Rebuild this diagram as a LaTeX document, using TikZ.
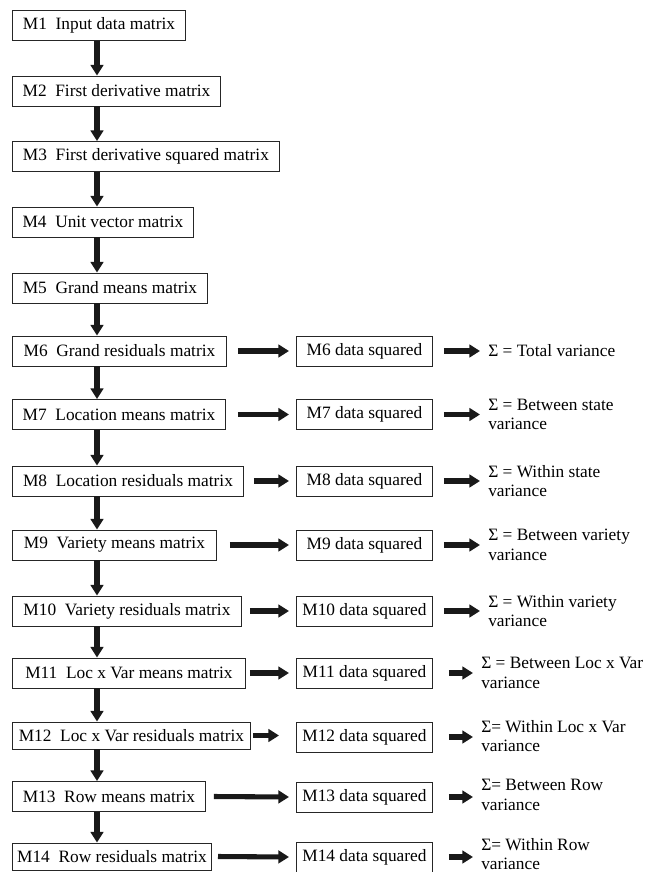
\documentclass[tikz,border=0pt]{standalone}
\usepackage{fontspec}
\setmainfont{Liberation Serif}
\usetikzlibrary{arrows.meta,calc}
\tikzset{
  lbox/.style={draw=black!85,line width=0.7pt,minimum height=22.5pt,inner sep=0pt,anchor=west,font=\fontsize{13pt}{15pt}\selectfont},
  rbox/.style={draw=black!85,line width=0.7pt,minimum width=102pt,minimum height=22.5pt,inner sep=0pt,anchor=west,font=\fontsize{13pt}{15pt}\selectfont},
  sigtext/.style={inner sep=0pt,anchor=west,align=left,font=\fontsize{13pt}{14.5pt}\selectfont},
  bigarrow/.style={line width=3.8pt,black!90,-{Triangle[length=8pt,width=9.5pt]}},
}
\begin{document}
\begin{tikzpicture}[x=0.75pt,y=-0.75pt]
\useasboundingbox (0,0) rectangle (654,872);
% left column
\node[lbox,minimum width=129.75pt] (l1) at (12,25.5) {M1~~Input data matrix};
\node[lbox,minimum width=156pt] (l2) at (12,91) {M2~~First derivative matrix};
\node[lbox,minimum width=200.25pt] (l3) at (12,156.5) {M3~~First derivative squared matrix};
\node[lbox,minimum width=135.75pt] (l4) at (12,222) {M4~~Unit vector matrix};
\node[lbox,minimum width=146.25pt] (l5) at (12,288) {M5~~Grand means matrix};
\node[lbox,minimum width=160.5pt] (l6) at (12,351) {M6~~Grand residuals matrix};
\node[lbox,minimum width=159.75pt] (l7) at (12,414.5) {M7~~Location means matrix};
\node[lbox,minimum width=173.25pt] (l8) at (12,481) {M8~~Location residuals matrix};
\node[lbox,minimum width=153pt] (l9) at (12,545) {M9~~Variety means matrix};
\node[lbox,minimum width=171.75pt] (l10) at (12,611) {M10~~Variety residuals matrix};
\node[lbox,minimum width=174.75pt] (l11) at (12,673) {M11~~Loc x Var means matrix};
\node[lbox,minimum width=178.5pt,minimum height=20.25pt] (l12) at (12,735.5) {M12~~Loc x Var residuals matrix};
\node[lbox,minimum width=144.75pt] (l13) at (12,796.5) {M13~~Row means matrix};
\node[lbox,minimum width=149.25pt,minimum height=20.25pt] (l14) at (12,856.5) {M14~~Row residuals matrix};
% vertical connectors
\foreach \a/\b in {l1/l2,l2/l3,l3/l4,l4/l5,l5/l6,l6/l7,l7/l8,l8/l9,l9/l10,l10/l11,l11/l12,l12/l13,l13/l14}
  \draw[bigarrow] ($(\a.south west)+(85,0)$) -- ($(\b.north west)+(85,0)$);
% middle column
\node[rbox] (r6) at (296,351) {M6 data squared};
\node[rbox] (r7) at (296,414.5) {M7 data squared};
\node[rbox] (r8) at (296,481) {M8 data squared};
\node[rbox] (r9) at (296,545) {M9 data squared};
\node[rbox] (r10) at (296,611) {M10 data squared};
\node[rbox] (r11) at (296,673) {M11 data squared};
\node[rbox] (r12) at (296,737) {M12 data squared};
\node[rbox] (r13) at (296,797) {M13 data squared};
\node[rbox] (r14) at (296,857) {M14 data squared};
% sums
\node[sigtext] (s6) at (488,351) {Σ = Total variance};
\node[sigtext] (s7) at (488,414.5) {Σ = Between state\\variance};
\node[sigtext] (s8) at (488,481) {Σ = Within state\\variance};
\node[sigtext] (s9) at (488,545) {Σ = Between variety\\variance};
\node[sigtext] (s10) at (488,611) {Σ = Within variety\\variance};
\node[sigtext] (s11) at (481,673) {Σ = Between Loc x Var\\variance};
\node[sigtext] (s12) at (481,736) {Σ= Within Loc x Var\\variance};
\node[sigtext] (s13) at (481,795) {Σ= Between Row\\variance};
\node[sigtext] (s14) at (481,854) {Σ= Within Row\\variance};
% horizontal connectors left -> middle
\draw[bigarrow] ($(l6.east)+(11,0)$) -- ($(r6.west)+(-7,0)$);
\draw[bigarrow] ($(l7.east)+(12,0)$) -- ($(r7.west)+(-7,0)$);
\draw[bigarrow] ($(l8.east)+(10,0)$) -- ($(r8.west)+(-7,0)$);
\draw[bigarrow] ($(l9.east)+(13,0)$) -- ($(r9.west)+(-7,0)$);
\draw[bigarrow] ($(l10.east)+(8,0)$) -- ($(r10.west)+(-7,0)$);
\draw[bigarrow] ($(l11.east)+(4,0)$) -- ($(r11.west)+(-7,0)$);
\draw[bigarrow] ($(r12.west |- l12.east)+(-43,0)$) -- ($(r12.west |- l12.east)+(-17,0)$);
\draw[bigarrow] ($(l13.east)+(8,0)$) -- ($(r13.west)+(-7,0)$);
\draw[bigarrow] ($(r14.west |- l14.east)+(-78,0)$) -- ($(r14.west)+(-7,0)$);
% horizontal connectors middle -> sums
\foreach \i in {6,7,8,9,10}
  \draw[bigarrow] ($(r\i.east)+(11,0)$) -- ($(s\i.west)+(-8,0)$);
\foreach \i in {11,12,13,14}
  \draw[bigarrow] ($(r\i.east)+(16,0)$) -- ($(s\i.west |- r\i.east)+(-8,0)$);
\end{tikzpicture}
\end{document}
